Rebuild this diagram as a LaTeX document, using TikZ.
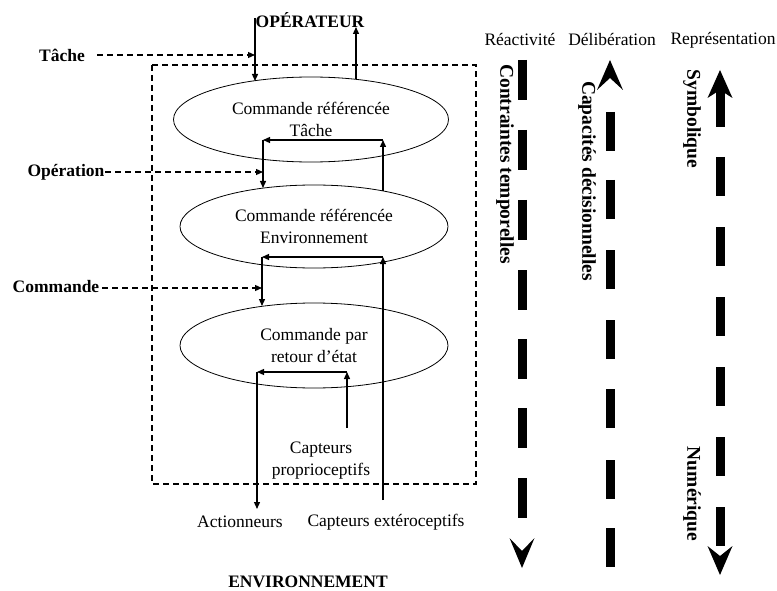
\documentclass[tikz,border=0pt]{standalone}
\usepackage{fontspec}
\setmainfont{Liberation Serif}
\usetikzlibrary{shapes.geometric,arrows.meta}
\begin{document}
\begin{tikzpicture}[x=1pt,y=-1pt,
  lbl/.style={font=\fontsize{17.5}{22}\selectfont, inner sep=0pt, align=center},
  blbl/.style={font=\fontsize{17.5}{22}\selectfont\bfseries, inner sep=0pt, align=center},
  rlbl/.style={font=\fontsize{19.5}{22}\selectfont\bfseries, inner sep=0pt, rotate=-90},
  ell/.style={ellipse, draw, line width=0.8pt, inner sep=0pt, align=center, font=\fontsize{17.5}{22}\selectfont},
  conn/.style={line width=1.3pt, -{Triangle[length=7pt,width=6pt]}},
  dconn/.style={line width=1.2pt, dash pattern=on 6pt off 4pt, -{Triangle[length=7pt,width=6pt]}},
  bigdash/.style={line width=9pt},
  chev/.style={fill=black, draw=none}
]
\useasboundingbox (0,0) rectangle (777,591);

% dashed system box
\draw[line width=1.2pt, dash pattern=on 6pt off 4pt] (152,65) rectangle (476,484);

% ellipses
\node[ell, minimum width=275pt, minimum height=85pt] (e1) at (311,119.5) {Commande référencée\\Tâche};
\node[ell, minimum width=268pt, minimum height=83pt] (e2) at (314,226.5) {Commande référencée\\Environnement};
\node[ell, minimum width=268pt, minimum height=85pt] (e3) at (314,345.5) {Commande par\\retour d'état};

% labels
\node[blbl] (op) at (310,20) {OPÉRATEUR};
\node[blbl] (env) at (308,582) {ENVIRONNEMENT};
\node[blbl] (tache) at (62,55) {Tâche};
\node[blbl] (oper) at (66,172) {Opération};
\node[blbl] (cmd) at (56,287) {Commande};
\node[lbl] (prop) at (321,461) {Capteurs\\proprioceptifs};
\node[lbl] (act) at (240,522) {Actionneurs};
\node[lbl] (ext) at (386,522) {Capteurs extéroceptifs};

% coordinates
\coordinate (opL) at (255,18);
\coordinate (e1a) at (255,81);
\coordinate (e1b) at (356,79);
\coordinate (opR) at (356,27);
\coordinate (tA) at (97,55);
\coordinate (tB) at (255,55);
\coordinate (oA) at (105,172);
\coordinate (oB) at (263,172);
\coordinate (cA) at (102,288);
\coordinate (cB) at (262,288);
\coordinate (f1r) at (383,191);
\coordinate (f1tr) at (383,140);
\coordinate (f1tl) at (263,140);
\coordinate (f1b) at (263,188);
\coordinate (f2r) at (383,500);
\coordinate (f2tr) at (383,257);
\coordinate (f2tl) at (262,257);
\coordinate (f2b) at (262,306);
\coordinate (f3r) at (347,428);
\coordinate (f3tr) at (347,372);
\coordinate (f3tl) at (257,372);
\coordinate (f3b) at (257,509);

% connectors
\draw[conn] (opL) -- (e1a);
\draw[conn] (e1b) -- (opR);
\draw[dconn] (tA) -- (tB);
\draw[dconn] (oA) -- (oB);
\draw[dconn] (cA) -- (cB);

\draw[conn] (f1r) -- (f1tr);
\draw[conn] (f1tr) -- (f1tl);
\draw[conn] (f1tl) -- (f1b);

\draw[conn] (f2r) -- (f2tr);
\draw[conn] (f2tr) -- (f2tl);
\draw[conn] (f2tl) -- (f2b);

\draw[conn] (f3r) -- (f3tr);
\draw[conn] (f3tr) -- (f3tl);
\draw[conn] (f3tl) -- (f3b);

% right side headers
\node[lbl] (rea) at (520,40) {Réactivité};
\node[lbl] (del) at (612,40) {Délibération};
\node[lbl] (rep) at (723,40) {Représentation};

% rotated labels
\node[rlbl] (ct) at (505,164) {Contraintes temporelles};
\node[rlbl] (cd) at (587,181) {Capacités décisionnelles};
\node[rlbl] (sy) at (692,119) {Symbolique};
\node[rlbl] (nu) at (692,494) {Numérique};

% Réactivité arrow (down)
\foreach \a in {60,130,200,270,339,408,478}
  \draw[bigdash] (522,\a) -- (522,\a+40);
\fill[chev] (522,568) -- (509.5,538) -- (522,551) -- (534.5,538) -- cycle;

% Délibération arrow (up)
\fill[chev] (610,60) -- (597,90) -- (610,78) -- (623,90) -- cycle;
\foreach \a in {112,180,250,320,389,460,528}
  \draw[bigdash] (610,\a) -- (610,\a+39);

% Représentation arrow (both)
\fill[chev] (720,70) -- (707.5,98) -- (720,90) -- (732.5,98) -- cycle;
\draw[bigdash] (720,89) -- (720,127);
\foreach \a in {157,227,297,367,437,507}
  \draw[bigdash] (720,\a) -- (720,\a+39);
\fill[chev] (720,575) -- (707.5,546) -- (720,556) -- (732.5,546) -- cycle;
\end{tikzpicture}
\end{document}
